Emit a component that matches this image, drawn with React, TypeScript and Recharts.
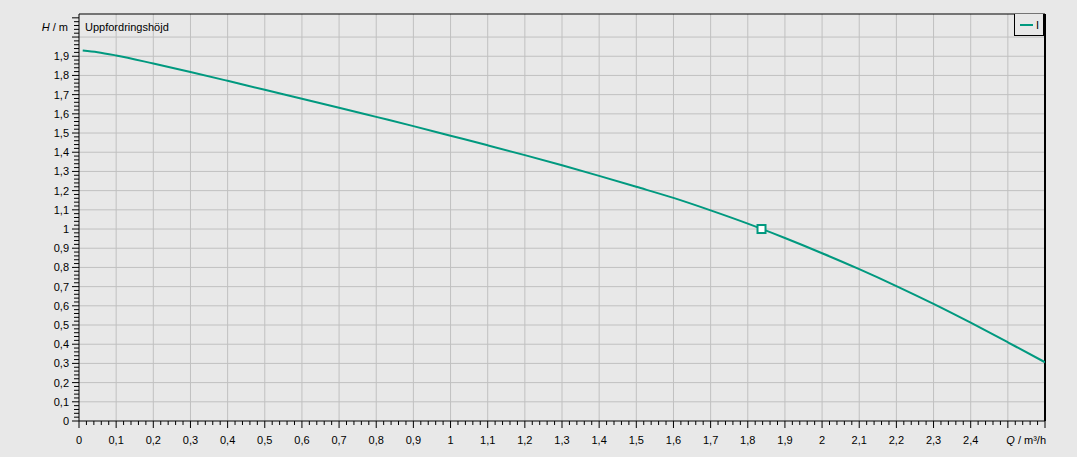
import React from 'react';
import { LineChart, Line, XAxis, YAxis, ReferenceLine, ReferenceDot } from 'recharts';

// Q in m³/h, H in m
const flowQ = [0.01, 0.05, 0.1, 0.2, 0.3, 0.4, 0.5, 0.6, 0.7, 0.8, 0.9, 1.0, 1.1, 1.2, 1.3, 1.4, 1.5, 1.6, 1.7, 1.8, 1.9, 2.0, 2.1, 2.2, 2.3, 2.4, 2.5, 2.6];
const headH = [1.930, 1.921, 1.904, 1.862, 1.818, 1.772, 1.725, 1.679, 1.632, 1.584, 1.536, 1.486, 1.436, 1.385, 1.332, 1.277, 1.220, 1.162, 1.097, 1.028, 0.953, 0.874, 0.791, 0.703, 0.610, 0.512, 0.410, 0.306];
const dutyPointQ = [1.837];
const dutyPointH = [1.0];

const xGridValues = [0.1, 0.2, 0.3, 0.4, 0.5, 0.6, 0.7, 0.8, 0.9, 1, 1.1, 1.2, 1.3, 1.4, 1.5, 1.6, 1.7, 1.8, 1.9, 2, 2.1, 2.2, 2.3, 2.4, 2.5];
const yGridValues = [0.1, 0.2, 0.3, 0.4, 0.5, 0.6, 0.7, 0.8, 0.9, 1, 1.1, 1.2, 1.3, 1.4, 1.5, 1.6, 1.7, 1.8, 1.9, 2];
const xLabelMax = 2.4;
const yLabelMax = 1.9;
const xDomain = [0, 2.6];
const yDomain = [0, 2.12];

const seriesName = 'I';
const yAxisTitle = 'H';
const yAxisUnit = ' / m';
const chartTitle = 'Uppfordringshöjd';
const xAxisTitle = 'Q';
const xAxisUnit = ' / m³/h';

const TEAL = '#00997f';
const FONT = '"Liberation Sans", Arial, sans-serif';

const data = flowQ.map((q, i) => ({ q, h: headH[i] }));
const xTicks = Array.from({ length: 131 }, (_, i) => Math.round(i * 2) / 100);
const yTicks = Array.from({ length: 106 }, (_, i) => Math.round(i * 2) / 100);

const fmt = (v: number) => String(Math.round(v * 10) / 10).replace('.', ',');
const isMajor = (v: number) => Math.round(v * 100) % 10 === 0;

const XTick = (props: any) => {
  const { x, y, payload } = props;
  const v = payload.value;
  const major = isMajor(v);
  const showLabel = major && v <= xLabelMax + 1e-9;
  return (
    <g>
      <line x1={x} x2={x} y1={y} y2={y + (major ? 7 : 4)} stroke="#000" strokeWidth={1} />
      {showLabel && (
        <text x={x} y={y + 23} textAnchor="middle" fontSize={11} fontFamily={FONT} fill="#000">
          {fmt(v)}
        </text>
      )}
    </g>
  );
};

const YTick = (props: any) => {
  const { x, y, payload } = props;
  const v = payload.value;
  const major = isMajor(v);
  const showLabel = major && v <= yLabelMax + 1e-9;
  return (
    <g>
      <line x1={x} x2={x - (major ? 7 : 5)} y1={y} y2={y} stroke="#000" strokeWidth={1} />
      {showLabel && (
        <text x={x - 10} y={y + 4} textAnchor="end" fontSize={11} fontFamily={FONT} fill="#000">
          {fmt(v)}
        </text>
      )}
    </g>
  );
};

const DutyShape = (p: any) => (
  <rect x={p.cx - 4} y={p.cy - 4} width={8} height={8} fill="#fff" stroke={TEAL} strokeWidth={2} />
);

export default function App() {
  const textStyle: React.CSSProperties = {
    position: 'absolute',
    fontFamily: FONT,
    fontSize: 11,
    color: '#000',
    lineHeight: '13px',
    whiteSpace: 'nowrap',
  };
  return (
    <div style={{ position: 'absolute', left: 0, top: 0, width: 1077, height: 457, background: '#e8e8e8', overflow: 'hidden' }}>
      <LineChart width={1077} height={457} data={data} margin={{ top: 14, right: 32, bottom: 0, left: 0 }}>
        <XAxis
          dataKey="q"
          type="number"
          domain={xDomain}
          ticks={xTicks}
          interval={0}
          height={36}
          tickSize={0}
          tickMargin={0}
          tickLine={false}
          axisLine={{ stroke: '#000', strokeWidth: 1 }}
          tick={<XTick />}
          allowDataOverflow
        />
        <YAxis
          type="number"
          domain={yDomain}
          ticks={yTicks}
          interval={0}
          width={79}
          tickSize={0}
          tickMargin={0}
          tickLine={false}
          axisLine={{ stroke: '#000', strokeWidth: 1 }}
          tick={<YTick />}
          allowDataOverflow
        />
        {xGridValues.map((v) => (
          <ReferenceLine key={'gx' + v} x={v} stroke="#c0c0c0" strokeWidth={1} />
        ))}
        {yGridValues.map((v) => (
          <ReferenceLine key={'gy' + v} y={v} stroke="#c0c0c0" strokeWidth={1} />
        ))}
        <ReferenceLine y={yDomain[1]} stroke="#000" strokeWidth={1} />
        <ReferenceLine x={xDomain[1]} stroke="#000" strokeWidth={2} />
        <Line
          type="monotone"
          dataKey="h"
          name={seriesName}
          stroke={TEAL}
          strokeWidth={2}
          dot={false}
          activeDot={false}
          isAnimationActive={false}
        />
        <ReferenceDot x={dutyPointQ[0]} y={dutyPointH[0]} shape={<DutyShape />} />
      </LineChart>
      <div style={{ ...textStyle, right: 1077 - 68, top: 21 }}>
        <i>{yAxisTitle}</i>
        {yAxisUnit}
      </div>
      <div style={{ ...textStyle, left: 85, top: 21 }}>{chartTitle}</div>
      <div style={{ ...textStyle, right: 1077 - 1046, top: 434 }}>
        <i>{xAxisTitle}</i>
        {xAxisUnit}
      </div>
      <div
        style={{
          position: 'absolute',
          left: 1014,
          top: 14,
          width: 31,
          height: 22,
          border: '1px solid #000',
          borderTop: 'none',
          borderRight: '2px solid #000',
          boxSizing: 'border-box',
          background: '#e8e8e8',
        }}
      >
        <div style={{ position: 'absolute', left: 5, top: 10, width: 13, height: 2, background: TEAL }} />
        <div style={{ ...textStyle, left: 21, top: 5 }}>{seriesName}</div>
      </div>
    </div>
  );
}
